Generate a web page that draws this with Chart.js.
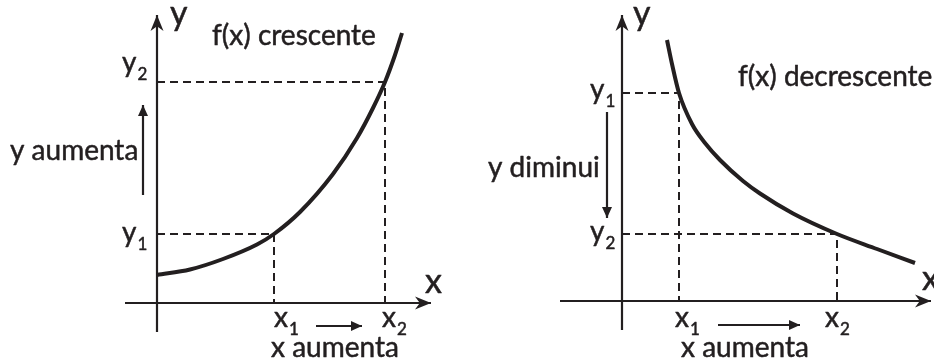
<!DOCTYPE html>
<html>
<head>
<meta charset="utf-8">
<script src="https://cdn.jsdelivr.net/npm/chart.js@4.4.1/dist/chart.umd.min.js"></script>
<style>
    html, body { margin: 0; padding: 0; background: #fff; }
    #wrap { position: relative; width: 934px; height: 358px; overflow: hidden; }
    canvas { position: absolute; top: 0; }
</style>
</head>
<body>
<div id="wrap">
    <canvas id="grow-chart" width="467" height="358" style="left:0"></canvas>
    <canvas id="fall-chart" width="467" height="358" style="left:467px"></canvas>
</div>
<script>
// Values (1 unit = 10 px, origin at the axes crossing)
const growX = [0, 3.3, 6.6, 10.0, 11.7, 14.3, 17.6, 20.0, 21.6, 22.8, 23.8, 24.5];
const growY = [2.8, 3.35, 4.4, 5.85, 6.9, 9.1, 12.9, 16.5, 19.5, 22.1, 24.8, 27.0];
const growMarksX = [11.7, 22.8];   // x1, x2
const growMarksY = [6.9, 22.1];    // y1, y2

const fallX = [4.5, 5.0, 5.7, 7.0, 8.3, 9.8, 12.1, 13.8, 17.1, 21.5, 25.5, 29.3];
const fallY = [26.1, 23.7, 20.8, 17.7, 15.8, 14.1, 12.0, 10.75, 8.75, 6.7, 5.2, 3.8];
const fallMarksX = [5.7, 21.5];    // x1, x2
const fallMarksY = [20.8, 6.7];    // y1, y2

const markSubs = ['1', '2'];
const axisNames = ['x', 'y'];
const titles = ['f(x) crescente', 'f(x) decrescente'];
const yNotes = ['y aumenta', 'y diminui'];
const xNote = 'x aumenta';

const INK = '#231f20';
const FONT = 'Lato, "Noto Sans", sans-serif';

function pts(xs, ys) {
    return xs.map((x, i) => ({ x: x, y: ys[i] }));
}

function drawHead(ctx, x0, y0, x1, y1, len, wid, notch) {
    const a = Math.atan2(y1 - y0, x1 - x0);
    ctx.save();
    ctx.translate(x1, y1);
    ctx.rotate(a);
    ctx.beginPath();
    ctx.moveTo(0, 0);
    ctx.lineTo(-len, -wid / 2);
    ctx.lineTo(-len * notch, 0);
    ctx.lineTo(-len, wid / 2);
    ctx.closePath();
    ctx.fillStyle = INK;
    ctx.fill();
    ctx.restore();
}

// arrow heads + text labels, placed through the chart scales
const sketchPlugin = {
    id: 'sketch',
    afterDatasetsDraw(chart, args, opts) {
        const ctx = chart.ctx;
        const sx = chart.scales.x, sy = chart.scales.y;
        chart.data.datasets.forEach(ds => {
            if (!ds.head) return;
            const d = ds.data, n = d.length;
            drawHead(ctx,
                sx.getPixelForValue(d[n - 2].x), sy.getPixelForValue(d[n - 2].y),
                sx.getPixelForValue(d[n - 1].x), sy.getPixelForValue(d[n - 1].y),
                ds.head[0], ds.head[1], ds.head[2]);
        });
        ctx.save();
        ctx.fillStyle = INK;
        ctx.strokeStyle = INK;
        ctx.lineWidth = 0.5;
        ctx.lineJoin = 'round';
        ctx.textBaseline = 'alphabetic';
        ctx.textAlign = 'left';
        (opts.labels || []).forEach(l => {
            const size = l.size || 28;
            ctx.font = size + 'px ' + FONT;
            let px = sx.getPixelForValue(l.x);
            const py = sy.getPixelForValue(l.y);
            const w = ctx.measureText(l.text).width;
            if (l.align === 'center') px -= w / 2;
            ctx.fillText(l.text, px, py);
            ctx.strokeText(l.text, px, py);
            if (l.sub) {
                ctx.font = Math.round(size * 0.62) + 'px ' + FONT;
                ctx.fillText(l.sub, px + w + 1, py + size * 0.28);
                ctx.strokeText(l.sub, px + w + 1, py + size * 0.28);
            }
        });
        ctx.restore();
    }
};

function makePanel(id, p) {
    const axisStyle = { borderColor: INK, borderWidth: 2.2, pointRadius: 0, showLine: true, fill: false };
    const dashStyle = { borderColor: INK, borderWidth: 2, borderDash: [8, 5], pointRadius: 0, showLine: true, fill: false };
    const datasets = [
        Object.assign({ data: [{ x: p.xAxis[0], y: 0 }, { x: p.xAxis[1], y: 0 }], head: [16, 13, 0.7] }, axisStyle),
        Object.assign({ data: [{ x: 0, y: p.yAxis[0] }, { x: 0, y: p.yAxis[1] }], head: [16, 13, 0.7] }, axisStyle),
        Object.assign({ data: [{ x: 0, y: p.marksY[0] }, { x: p.marksX[0], y: p.marksY[0] }, { x: p.marksX[0], y: 0 }] }, dashStyle),
        Object.assign({ data: [{ x: 0, y: p.marksY[1] }, { x: p.marksX[1], y: p.marksY[1] }, { x: p.marksX[1], y: 0 }] }, dashStyle),
        {
            data: pts(p.curveX, p.curveY),
            borderColor: INK, borderWidth: 4, pointRadius: 0, showLine: true,
            cubicInterpolationMode: 'monotone', borderCapStyle: 'butt'
        },
        Object.assign({ data: p.yArrow, head: [11, 10, 1] }, axisStyle),
        Object.assign({ data: p.xArrow, head: [11, 10, 1] }, axisStyle)
    ];
    return new Chart(document.getElementById(id).getContext('2d'), {
        type: 'scatter',
        data: { datasets: datasets },
        options: {
            responsive: false,
            animation: false,
            devicePixelRatio: 1,
            layout: { padding: 0 },
            scales: {
                x: { type: 'linear', display: false, min: p.range[0], max: p.range[1] },
                y: { type: 'linear', display: false, min: p.range[2], max: p.range[3] }
            },
            plugins: {
                legend: { display: false },
                tooltip: { enabled: false },
                sketch: { labels: p.labels }
            }
        },
        plugins: [sketchPlugin]
    });
}

makePanel('grow-chart', {
    range: [-15.7, 31.0, -5.5, 30.3],
    xAxis: [-3.2, 27.4],
    yAxis: [-2.9, 28.8],
    curveX: growX, curveY: growY,
    marksX: growMarksX, marksY: growMarksY,
    yArrow: [{ x: -1.4, y: 10.8 }, { x: -1.4, y: 19.8 }],
    xArrow: [{ x: 15.9, y: -2.3 }, { x: 20.5, y: -2.3 }],
    labels: [
        { text: axisNames[1], x: 1.3, y: 27.8, size: 34 },
        { text: titles[0], x: 5.5, y: 25.8 },
        { text: axisNames[1], sub: markSubs[1], x: -3.5, y: 23.1 },
        { text: yNotes[0], x: -14.7, y: 14.3 },
        { text: axisNames[1], sub: markSubs[0], x: -3.5, y: 6.1 },
        { text: axisNames[0], x: 26.8, y: 1.0, size: 34 },
        { text: axisNames[0], sub: markSubs[0], x: 11.7, y: -2.4 },
        { text: axisNames[0], sub: markSubs[1], x: 22.5, y: -2.4 },
        { text: xNote, x: 17.8, y: -5.4, align: 'center' }
    ]
});

makePanel('fall-chart', {
    range: [-15.5, 31.2, -5.7, 30.1],
    xAxis: [-6.2, 30.9],
    yAxis: [-2.9, 28.6],
    curveX: fallX, curveY: fallY,
    marksX: fallMarksX, marksY: fallMarksY,
    yArrow: [{ x: -1.5, y: 18.9 }, { x: -1.5, y: 8.3 }],
    xArrow: [{ x: 9.6, y: -2.4 }, { x: 17.8, y: -2.4 }],
    labels: [
        { text: axisNames[1], x: 1.1, y: 27.6, size: 34 },
        { text: titles[1], x: 11.6, y: 21.5 },
        { text: axisNames[1], sub: markSubs[0], x: -3.2, y: 20.2 },
        { text: yNotes[1], x: -13.4, y: 12.4 },
        { text: axisNames[1], sub: markSubs[1], x: -3.2, y: 6.0 },
        { text: axisNames[0], x: 30.0, y: 1.1, size: 34 },
        { text: axisNames[0], sub: markSubs[0], x: 5.3, y: -2.6 },
        { text: axisNames[0], sub: markSubs[1], x: 20.3, y: -2.6 },
        { text: xNote, x: 12.3, y: -5.6, align: 'center' }
    ]
});
</script>
</body>
</html>
